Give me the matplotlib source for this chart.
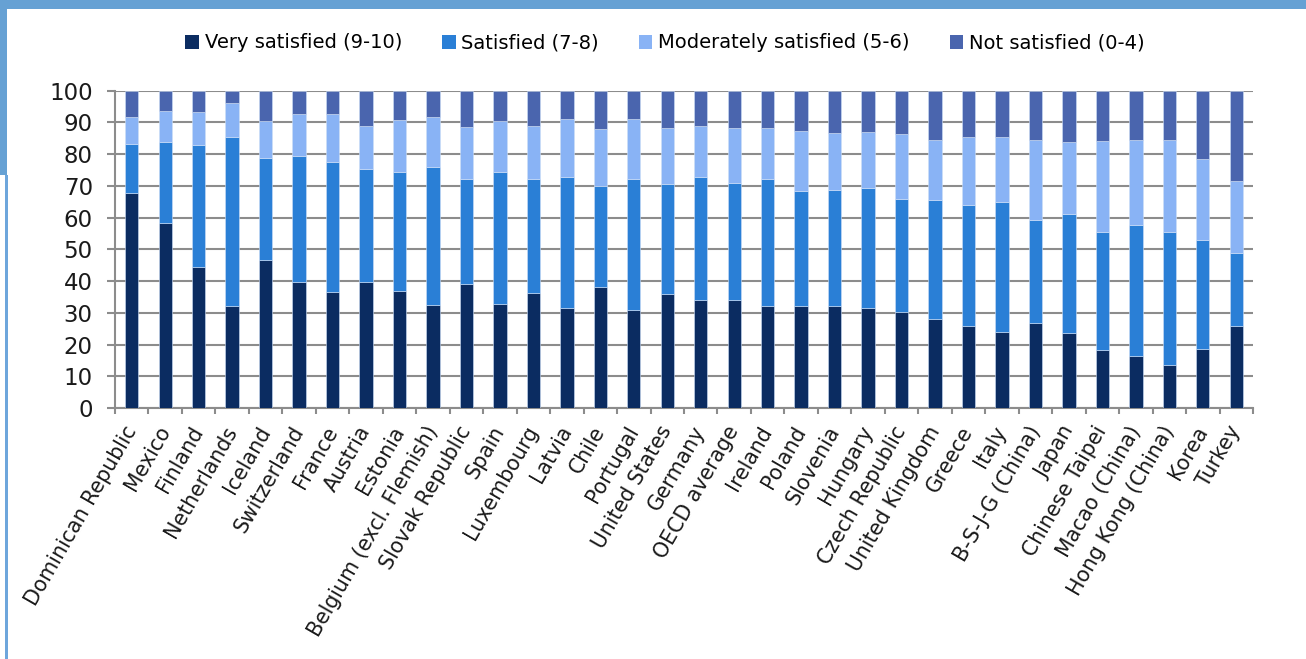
import matplotlib
matplotlib.use("Agg")
import matplotlib.pyplot as plt
from matplotlib.patches import Rectangle
import numpy as np

countries = ["Dominican Republic", "Mexico", "Finland", "Netherlands", "Iceland",
             "Switzerland", "France", "Austria", "Estonia", "Belgium (excl. Flemish)",
             "Slovak Republic", "Spain", "Luxembourg", "Latvia", "Chile", "Portugal",
             "United States", "Germany", "OECD average", "Ireland", "Poland", "Slovenia",
             "Hungary", "Czech Republic", "United Kingdom", "Greece", "Italy",
             "B-S-J-G (China)", "Japan", "Chinese Taipei", "Macao (China)",
             "Hong Kong (China)", "Korea", "Turkey"]

very_satisfied = [67.7, 58.4, 44.3, 32.3, 46.5, 39.6, 36.5, 39.6, 36.8, 32.6,
                  39.2, 32.9, 36.1, 31.4, 38.1, 30.9, 35.8, 34.0, 34.0, 32.3,
                  32.3, 32.3, 31.5, 30.4, 28.2, 26.0, 24.1, 26.8, 23.5, 18.4,
                  16.3, 13.7, 18.5, 26.0]
satisfied = [15.6, 25.5, 38.7, 53.2, 32.4, 39.8, 41.1, 35.8, 37.7, 43.2,
             33.0, 41.5, 36.1, 41.5, 31.9, 41.4, 34.7, 38.7, 37.0, 40.0,
             36.2, 36.5, 37.9, 35.6, 37.5, 38.1, 40.7, 32.3, 37.5, 37.2,
             41.5, 41.9, 34.3, 22.7]
moderately = [8.4, 9.7, 10.3, 10.7, 11.6, 13.1, 14.9, 13.5, 16.2, 15.9,
              16.5, 16.1, 16.7, 18.2, 17.9, 18.8, 17.6, 16.2, 17.1, 15.8,
              18.8, 17.8, 17.5, 20.3, 18.7, 21.2, 20.5, 25.4, 22.8, 28.5,
              26.7, 28.8, 25.6, 22.8]
not_satisfied = [8.3, 6.4, 6.7, 3.8, 9.5, 7.5, 7.5, 11.1, 9.3, 8.3,
                 11.3, 9.5, 11.1, 8.9, 12.1, 8.9, 11.9, 11.1, 11.9, 11.9,
                 12.7, 13.4, 13.1, 13.7, 15.6, 14.7, 14.7, 15.5, 16.2, 15.9,
                 15.5, 15.6, 21.6, 28.5]

series_names = ["Very satisfied (9-10)", "Satisfied (7-8)",
                "Moderately satisfied (5-6)", "Not satisfied (0-4)"]
colors = ["#0b2c61", "#2a7fd6", "#89b3f5", "#4a65ae"]
yticks = [0, 10, 20, 30, 40, 50, 60, 70, 80, 90, 100]

W, H = 1306, 659
fig = plt.figure(figsize=(W / 100, H / 100), dpi=100)
fig.patch.set_facecolor("white")

# frame decoration
fig.patches.append(Rectangle((0, 1 - 9 / H), 1, 9 / H, transform=fig.transFigure,
                             facecolor="#66a1d4", edgecolor="none", zorder=0))
fig.patches.append(Rectangle((0, 1 - 175 / H), 7 / W, 175 / H, transform=fig.transFigure,
                             facecolor="#66a1d4", edgecolor="none", zorder=0))
fig.patches.append(Rectangle((5 / W, 0), 2.5 / W, 1 - 175 / H, transform=fig.transFigure,
                             facecolor="#6ea6dc", edgecolor="none", zorder=0))

ax = fig.add_axes([115 / W, 1 - 408 / H, (1253 - 115) / W, (408 - 90.7) / H])

x = np.arange(len(countries))
data = [very_satisfied, satisfied, moderately, not_satisfied]
bottom = np.zeros(len(countries))
handles = []
for vals, c, name in zip(data, colors, series_names):
    vals = np.array(vals)
    ax.bar(x, vals, width=0.4, bottom=bottom, color=c, edgecolor="#cfe0f7",
           linewidth=0.4, label=name, zorder=3)
    bottom += vals
    handles.append(Rectangle((0, 0), 1, 1, facecolor=c, edgecolor="none"))

ax.set_xlim(-0.5, len(countries) - 0.5)
ax.set_ylim(0, 100)
ax.set_yticks(yticks)
ax.set_yticklabels([str(v) for v in yticks], fontsize=16.5, color="#1a1a1a")
ax.yaxis.grid(True, color="#8c8c8c", linewidth=1.5, zorder=0)
ax.set_axisbelow(True)

for s in ["top", "right"]:
    ax.spines[s].set_visible(False)
ax.spines["left"].set_color("#8c8c8c")
ax.spines["left"].set_linewidth(1.5)
ax.spines["bottom"].set_color("#8c8c8c")
ax.spines["bottom"].set_linewidth(1.5)

ax.tick_params(axis="y", length=6, width=1.5, color="#8c8c8c", pad=10)
ax.set_xticks(x)
ax.set_xticklabels(countries, rotation=60, ha="right", va="center",
                   rotation_mode="anchor", fontsize=14.8, color="#1a1a1a")
ax.tick_params(axis="x", which="major", length=0, pad=14)
ax.set_xticks(np.arange(-0.5, len(countries), 1), minor=True)
ax.tick_params(axis="x", which="minor", length=4, width=1.5, color="#8c8c8c")

fig.legend(handles, series_names, loc="center", ncol=4,
           bbox_to_anchor=(665 / W, 1 - 43 / H), frameon=False, fontsize=14,
           handlelength=0.7, handleheight=0.7, handletextpad=0.3, columnspacing=2.05)

fig.savefig("out.png", dpi=100, facecolor="white")
